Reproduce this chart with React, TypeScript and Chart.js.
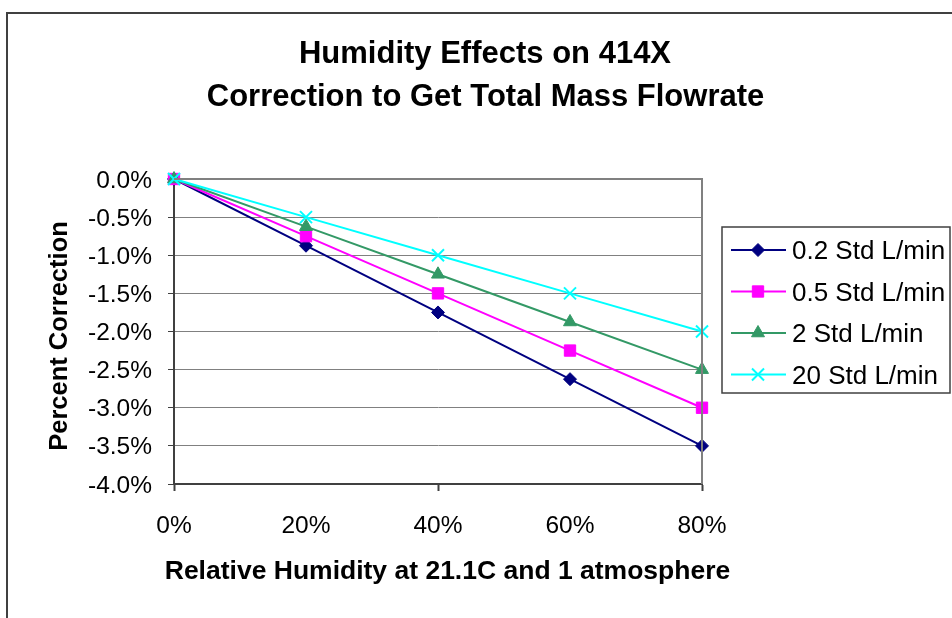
import React, { useEffect, useRef } from 'react';
import { Chart, registerables } from 'chart.js';
import { drawPoint } from 'chart.js/helpers';

Chart.register(...registerables);

const categories = ['0%', '20%', '40%', '60%', '80%'];
const series02 = [0, -0.875, -1.75, -2.625, -3.5];
const series05 = [0, -0.75, -1.5, -2.25, -3.0];
const series2 = [0, -0.625, -1.25, -1.875, -2.5];
const series20 = [0, -0.5, -1.0, -1.5, -2.0];
const seriesNames = ['0.2 Std L/min', '0.5 Std L/min', '2 Std L/min', '20 Std L/min'];
const yTickValues = [0, -0.5, -1.0, -1.5, -2.0, -2.5, -3.0, -3.5, -4.0];
const titleLines = ['Humidity Effects on 414X', 'Correction to Get Total Mass Flowrate'];
const xTitle = 'Relative Humidity at 21.1C and 1 atmosphere';
const yTitle = 'Percent Correction';

const FONT = "'Liberation Sans', Arial, sans-serif";

const colors = ['#000080', '#FF00FF', '#339966', '#00FFFF'];
const pointStyles = ['rectRot', 'rect', 'triangle', 'crossRot'];
const pointRadii = [6.5, 8, 7.5, 8.5];
const pointBorders = [1, 1, 1, 2];

function drawText(ctx: CanvasRenderingContext2D, text: string, x: number, y: number, font: string, align: CanvasTextAlign, rot = 0) {
  ctx.save();
  ctx.translate(x, y);
  if (rot) ctx.rotate(rot);
  ctx.font = font;
  ctx.fillStyle = '#000';
  ctx.textAlign = align;
  ctx.textBaseline = 'alphabetic';
  ctx.fillText(text, 0, 0);
  ctx.restore();
}

const decorPlugin = {
  id: 'decor',
  afterDraw(chart: any) {
    const ctx: CanvasRenderingContext2D = chart.ctx;
    const area = chart.chartArea;
    const xs = chart.scales.x;
    const ys = chart.scales.y;

    // outer chart border
    ctx.save();
    ctx.strokeStyle = '#404040';
    ctx.lineWidth = 2;
    ctx.beginPath();
    ctx.moveTo(7, 640);
    ctx.lineTo(7, 13);
    ctx.lineTo(970, 13);
    ctx.stroke();

    // plot area border (top / right)
    ctx.strokeStyle = '#808080';
    ctx.lineWidth = 2;
    ctx.beginPath();
    ctx.moveTo(area.left, area.top);
    ctx.lineTo(area.right, area.top);
    ctx.lineTo(area.right, area.bottom);
    ctx.stroke();
    ctx.restore();

    // title
    drawText(ctx, titleLines[0], 485, 63, `bold 31px ${FONT}`, 'center');
    drawText(ctx, titleLines[1], 485.5, 105.5, `bold 31px ${FONT}`, 'center');

    // y tick labels
    yTickValues.forEach((v) => {
      const y = ys.getPixelForValue(v);
      const label = (v === 0 ? '0.0' : v.toFixed(1)) + '%';
      drawText(ctx, label, 152, y + 8.5, `24.5px ${FONT}`, 'right');
    });

    // x tick labels
    categories.forEach((c, i) => {
      const x = xs.getPixelForValue(i);
      drawText(ctx, c, x, 533, `24.5px ${FONT}`, 'center');
    });

    // axis titles
    drawText(ctx, xTitle, 447.5, 579, `bold 26.5px ${FONT}`, 'center');
    drawText(ctx, yTitle, 67, (area.top + area.bottom) / 2 + 4.5, `bold 25.5px ${FONT}`, 'center', -Math.PI / 2);

    // legend
    const lx = 722, ly = 227, lw = 228, lh = 166;
    ctx.save();
    ctx.strokeStyle = '#404040';
    ctx.lineWidth = 1.5;
    ctx.strokeRect(lx, ly, lw, lh);
    ctx.restore();
    const rowY = [250, 291.5, 333, 374.5];
    chart.data.datasets.forEach((ds: any, i: number) => {
      const y = rowY[i];
      ctx.save();
      ctx.strokeStyle = ds.borderColor;
      ctx.lineWidth = 2;
      ctx.beginPath();
      ctx.moveTo(731, y);
      ctx.lineTo(786, y);
      ctx.stroke();
      ctx.fillStyle = ds.pointBackgroundColor;
      ctx.strokeStyle = ds.pointBorderColor;
      ctx.lineWidth = ds.pointBorderWidth;
      drawPoint(ctx, { pointStyle: ds.pointStyle, radius: ds.pointRadius, rotation: 0, borderWidth: ds.pointBorderWidth } as any, 758, y);
      ctx.restore();
      drawText(ctx, ds.label, 792, y + 9, `26px ${FONT}`, 'left');
    });
  },
};

export default function App() {
  const ref = useRef<HTMLCanvasElement>(null);
  useEffect(() => {
    if (!ref.current) return;
    const allSeries = [series02, series05, series2, series20];
    const chart = new Chart(ref.current, {
      type: 'line',
      data: {
        labels: categories,
        datasets: allSeries.map((d, i) => ({
          label: seriesNames[i],
          data: d,
          borderColor: colors[i],
          backgroundColor: colors[i],
          pointBackgroundColor: colors[i],
          pointBorderColor: colors[i],
          pointBorderWidth: pointBorders[i],
          pointStyle: pointStyles[i] as any,
          pointRadius: pointRadii[i],
          borderWidth: 2,
          tension: 0,
          fill: false,
          clip: false as any,
          order: 4 - i,
        })),
      },
      options: {
        responsive: false,
        animation: false,
        devicePixelRatio: 1,
        layout: { padding: { top: 179, right: 250, left: 0, bottom: 0 } },
        plugins: {
          legend: { display: false },
          title: { display: false },
          tooltip: { enabled: false },
        },
        scales: {
          x: {
            type: 'category',
            offset: false,
            ticks: { display: false },
            grid: {
              drawOnChartArea: false,
              drawTicks: true,
              tickLength: 7,
              tickWidth: 2,
              tickColor: (c: any) => (c.index % 2 === 0 ? '#404040' : 'rgba(0,0,0,0)'),
            },
            border: { display: true, color: '#404040', width: 2 },
            afterFit: (s: any) => {
              s.height = 134;
            },
          },
          y: {
            type: 'linear',
            min: -4,
            max: 0,
            ticks: { display: false, stepSize: 0.5 },
            grid: {
              color: '#808080',
              lineWidth: 1,
              drawTicks: true,
              tickLength: 6,
              tickColor: '#404040',
              tickWidth: 1,
            },
            border: { display: true, color: '#404040', width: 2 },
            afterFit: (s: any) => {
              s.width = 174;
            },
          },
        },
      },
      plugins: [decorPlugin],
    });
    return () => chart.destroy();
  }, []);
  return (
    <div style={{ position: 'absolute', left: 0, top: 0, width: 952, height: 618, background: '#fff', overflow: 'hidden' }}>
      <canvas ref={ref} width={952} height={618} style={{ display: 'block' }} />
    </div>
  );
}
